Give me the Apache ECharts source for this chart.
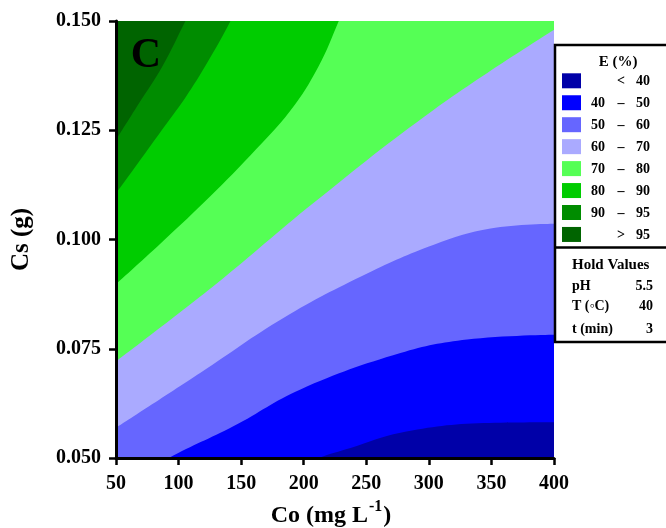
<!DOCTYPE html>
<html>
<head>
<meta charset="utf-8">
<script src="https://cdn.jsdelivr.net/npm/echarts@6/dist/echarts.min.js"></script>
<style>html,body{margin:0;padding:0;background:#fff}#main{width:666px;height:528px}</style>
</head>
<body>
<div id="main"></div>
<script>
// ---- data ----
const bandNames  = ['< 40', '40 – 50', '50 – 60', '60 – 70', '70 – 80', '80 – 90', '90 – 95', '> 95'];
const bandLeft   = ['',   '40', '50', '60', '70', '80', '90', ''];
const bandMid    = ['<',  '–',  '–',  '–',  '–',  '–',  '–',  '>'];
const bandRight  = ['40', '50', '60', '70', '80', '90', '95', '95'];
const bandColors = ['#0000A8', '#0000FF', '#6666FF', '#AAAAFF', '#55FF55', '#00CC00', '#008C00', '#006400'];

// contour boundaries [Co, Cs] (region below each line has lower E)
const topEdge    = [[50, 0.15], [400, 0.15]];
const boundary95 = [[50, 0.1228], [68, 0.131], [87, 0.1396], [105.5, 0.15], [125, 0.161], [400, 0.161]];
const boundary90 = [[50, 0.1105], [74, 0.1200], [89.6, 0.1262], [105.5, 0.1325], [123, 0.1405], [141.5, 0.15], [160, 0.161], [400, 0.161]];
const boundary80 = [[50, 0.0898], [85.6, 0.0991], [120, 0.1084], [157.5, 0.1193], [189.4, 0.1295], [211.8, 0.1396], [228, 0.15], [245, 0.162], [400, 0.162]];
const boundary70 = [[50, 0.0721], [129.5, 0.0897], [208, 0.1084], [304, 0.1297], [400, 0.1480]];
const boundary60 = [[50, 0.0569], [117.5, 0.0695], [184.1, 0.0821], [250.7, 0.0922], [304, 0.0988], [349.3, 0.1025], [400, 0.1036]];
const boundary50 = [[70, 0.0460], [92.2, 0.05], [144.1, 0.0573], [197.4, 0.0657], [277.3, 0.0740], [330.6, 0.0771], [400, 0.0782]];
const boundary40 = [[190, 0.0470], [211.8, 0.05], [237.4, 0.0523], [277.3, 0.0558], [343.9, 0.0580], [400, 0.0582]];

const xMin = 50, xMax = 400, xStep = 50;
const yMin = 0.050, yMax = 0.150, yStep = 0.025;
const holdNames  = ['pH', 'T (◦C)', 't (min)'];
const holdValues = ['5.5', '40', '3'];
const panelLabel = 'C';

// ---- chart ----
const FONT = "'Liberation Serif', 'Times New Roman', serif";
const chart = echarts.init(document.getElementById('main'), null, {renderer: 'canvas'});

const layers = [
  [topEdge, 7], [boundary95, 6], [boundary90, 5], [boundary80, 4],
  [boundary70, 3], [boundary60, 2], [boundary50, 1], [boundary40, 0]
];
const series = layers.map(([d, ci]) => ({
  type: 'line',
  name: bandNames[ci],
  data: d,
  smooth: 0.4,
  showSymbol: false,
  symbol: 'none',
  clip: true,
  silent: true,
  lineStyle: {width: 0, color: bandColors[ci]},
  areaStyle: {color: bandColors[ci], opacity: 1, origin: 'start'},
  itemStyle: {color: bandColors[ci]},
  emphasis: {disabled: true},
  animation: false
}));

const graphics = [];
graphics.push({type: 'rect', z: 100, shape: {x: 555, y: 45, width: 125, height: 297},
  style: {fill: '#fff', stroke: '#000', lineWidth: 2.5}});
graphics.push({type: 'line', z: 101, shape: {x1: 555, y1: 247.5, x2: 680, y2: 247.5},
  style: {stroke: '#000', lineWidth: 2.5}});
graphics.push({type: 'text', z: 102, x: 618, y: 62,
  style: {text: 'E (%)', font: 'bold 15px ' + FONT, fill: '#000', textAlign: 'center', textVerticalAlign: 'middle'}});
for (let i = 0; i < bandNames.length; i++) {
  const cy = 80.8 + 21.95 * i;
  graphics.push({type: 'rect', z: 102, shape: {x: 562, y: cy - 7.5, width: 19, height: 15},
    style: {fill: bandColors[i]}});
  const st = {font: 'bold 14px ' + FONT, fill: '#000', textVerticalAlign: 'middle'};
  if (bandLeft[i]) graphics.push({type: 'text', z: 102, x: 605, y: cy + 1, style: Object.assign({text: bandLeft[i], textAlign: 'right'}, st)});
  graphics.push({type: 'text', z: 102, x: 621, y: cy + 1, style: Object.assign({text: bandMid[i], textAlign: 'center'}, st)});
  graphics.push({type: 'text', z: 102, x: 650, y: cy + 1, style: Object.assign({text: bandRight[i], textAlign: 'right'}, st)});
}
graphics.push({type: 'text', z: 102, x: 572, y: 265,
  style: {text: 'Hold Values', font: 'bold 15px ' + FONT, fill: '#000', textAlign: 'left', textVerticalAlign: 'middle'}});
const holdY = [286, 306, 329];
for (let i = 0; i < holdNames.length; i++) {
  graphics.push({type: 'text', z: 102, x: 572, y: holdY[i],
    style: {text: holdNames[i], font: 'bold 14px ' + FONT, fill: '#000', textAlign: 'left', textVerticalAlign: 'middle'}});
  graphics.push({type: 'text', z: 102, x: 653, y: holdY[i],
    style: {text: holdValues[i], font: 'bold 14px ' + FONT, fill: '#000', textAlign: 'right', textVerticalAlign: 'middle'}});
}
graphics.push({type: 'text', z: 102, x: 146, y: 56,
  style: {text: panelLabel, font: 'bold 42px ' + FONT, fill: '#000', textAlign: 'center', textVerticalAlign: 'middle'}});

chart.setOption({
  animation: false,
  backgroundColor: '#fff',
  grid: {left: 116, top: 21, right: 112, bottom: 70, containLabel: false, outerBoundsMode: 'none'},
  xAxis: {
    type: 'value', min: xMin, max: xMax, interval: xStep, z: 10,
    name: '{m|Co (mg L}{s|-1}{m|)}',
    nameLocation: 'middle', nameGap: 30,
    nameTextStyle: {padding: [0, 8, 0, 0], rich: {
      m: {fontFamily: FONT, fontWeight: 'bold', fontSize: 24, color: '#000', verticalAlign: 'bottom'},
      s: {fontFamily: FONT, fontWeight: 'bold', fontSize: 16, color: '#000', verticalAlign: 'bottom', padding: [0, 1, 13, 1]}
    }},
    axisLine: {show: true, onZero: false, lineStyle: {color: '#000', width: 3}},
    axisTick: {show: true, inside: false, length: 7, lineStyle: {color: '#000', width: 2.5}},
    axisLabel: {fontFamily: FONT, fontWeight: 'bold', fontSize: 20, color: '#000', margin: 16},
    splitLine: {show: false}
  },
  yAxis: {
    type: 'value', min: yMin, max: yMax, interval: yStep, z: 10,
    name: 'Cs (g)', nameLocation: 'middle', nameGap: 82,
    nameTextStyle: {fontFamily: FONT, fontWeight: 'bold', fontSize: 25, color: '#000'},
    axisLine: {show: true, onZero: false, lineStyle: {color: '#000', width: 3}},
    axisTick: {show: true, inside: false, length: 7, lineStyle: {color: '#000', width: 2.5}},
    axisLabel: {fontFamily: FONT, fontWeight: 'bold', fontSize: 20, color: '#000', margin: 15,
      formatter: v => v.toFixed(3)},
    splitLine: {show: false}
  },
  series: series,
  graphic: graphics
});
</script>
</body>
</html>
